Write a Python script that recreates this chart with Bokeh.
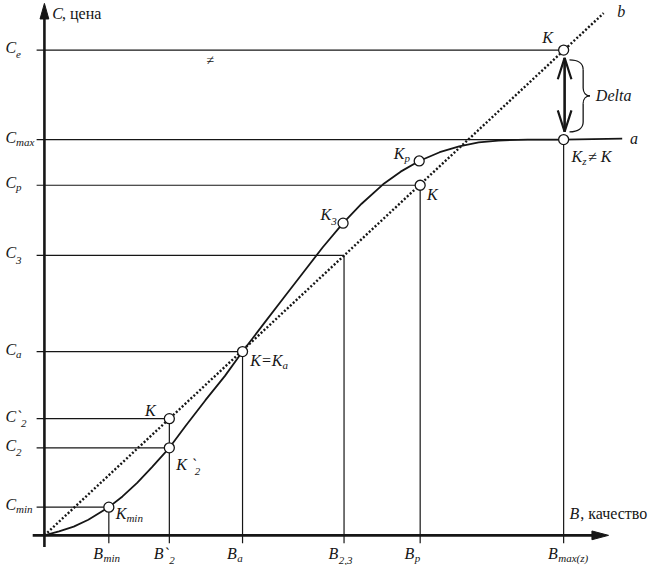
from bokeh.plotting import figure
from bokeh.models import Range1d, ColumnDataSource
from bokeh.core.properties import value
from bokeh.embed import file_html
from bokeh.resources import INLINE

# ---------------- data (diagram units) ----------------
# quality levels on the B axis
B_main = ["B", "B`", "B", "B", "B", "B"]
B_sub = ["min", "2", "a", "2,3", "p", "max(z)"]
B_vals = [66, 128, 203, 307, 385, 532]
B_top = [29, 120, 189, 288, 360, 407]          # height reached by each vertical guide

# price levels on the C axis
C_main = ["C", "C", "C", "C", "C", "C`", "C", "C"]
C_sub = ["e", "max", "p", "3", "a", "2", "2", "min"]
C_vals = [499, 407, 360, 288, 189, 120, 90, 29]
C_end = [532, 532, 385, 307, 203, 128, 128, 66]  # where each horizontal guide stops

# curve a (S-shaped price/quality curve)
curve_B = [0, 15, 30, 45, 66, 80, 95, 110, 128, 145, 165, 185, 203, 225, 245, 265,
           285, 306, 325, 347, 365, 384, 405, 425, 445, 465, 495, 532, 592]
curve_C = [0, 4, 9, 16, 29, 40, 54, 70, 90, 113, 139, 164, 189, 218, 244, 270,
           296, 321, 341, 361, 374, 385, 394, 400, 404, 406, 407, 407, 408]

# line b (proportional price)
line_B = [0, 573]
line_C = [0, 537]

# marked points
K_B = [66, 128, 128, 203, 306, 384, 385, 532, 532]
K_C = [29, 90, 120, 189, 321, 385, 360, 499, 407]
K_main = ["K", "K `", "K", "K=K", "K", "K", "K", "K", "K"]
K_sub = ["min", "2", "", "a", "3", "p", "", "", "z"]
K_extra = ["", "", "", "", "", "", "", "", "\u2260 K"]

# ---------------- styles ----------------
FONT = "Liberation Serif"
INK = "#161616"
MAIN = 16
SUB = 11
K_off = [(7, -6), (7, -16), (-25, 9), (8, -9), (-23, 10), (-26, 8), (7, -9), (-22, 14), (8, -17)]
K_subdx = [11, 19, 0, 33, 11, 11, 0, 0, 11]
K_extradx = [0, 0, 0, 0, 0, 0, 0, 0, 17]
C_subdx = {"C": 11, "C`": 16}
B_subdx = {"B": 10.5, "B`": 16}

p = figure(width=650, height=565, x_range=Range1d(-45, 621), y_range=Range1d(-31, 550),
           output_backend="svg", toolbar_location=None, x_axis_type=None, y_axis_type=None,
           min_border=0, background_fill_color="white", border_fill_color="white")
p.outline_line_color = None
p.grid.visible = False

T = dict(x=[], y=[], text=[], size=[], style=[])


def txt(x, y, s, size=MAIN, italic=True):
    # y is the visual centre; the text is anchored at its bottom edge
    T["x"].append(x)
    T["y"].append(y - 0.57 * size / 0.972)
    T["text"].append(s)
    T["size"].append("%dpx" % size)
    T["style"].append("italic" if italic else "normal")


# guide lines
n = len(C_vals)
p.segment(x0=[-8] * n, y0=C_vals, x1=C_end, y1=C_vals, line_color=INK, line_width=1.2)
m = len(B_vals)
p.segment(x0=B_vals, y0=[-8] * m, x1=B_vals, y1=B_top, line_color=INK, line_width=1.2)

# axes with arrow heads
y_tip = 547
x_tip = 578
p.line([0, 0], [-12, y_tip - 14], line_color=INK, line_width=2.6)
p.patch([-4.5, 0, 4.5], [y_tip - 16, y_tip, y_tip - 16], fill_color=INK, line_color=INK)
p.line([-12, x_tip - 14], [0, 0], line_color=INK, line_width=2.6)
p.patch([x_tip - 17, x_tip, x_tip - 17], [4.5, 0, -4.5], fill_color=INK, line_color=INK)

# curve a and line b
p.line(line_B, line_C, line_color=INK, line_width=2.4, line_dash="2 2")
p.line(curve_B, curve_C, line_color=INK, line_width=1.8)

# Delta double arrow between Ce and Cmax at Bmax
xd = B_vals[-1] + 1
top = C_vals[0] - 8
bot = C_vals[1] + 8
p.line([xd, xd], [top, bot], line_color=INK, line_width=2.6)
p.line([xd - 7, xd, xd + 7], [top - 22, top, top - 22], line_color=INK, line_width=2.2)
p.line([xd - 7, xd, xd + 7], [bot + 22, bot, bot + 22], line_color=INK, line_width=2.2)

# brace
xb = B_vals[-1] + 6
xm = xb + 14
xt = xb + 21
yt = C_vals[0] - 10
yb = C_vals[1] + 8
ym = (yt + yb) / 2
p.bezier(x0=[xb, xm, xt, xm], y0=[yt, ym + 8, ym, yb + 10],
         x1=[xm, xt, xm, xb], y1=[yt - 10, ym, ym - 8, yb],
         cx0=[xm - 5, xm, xm + 3, xm], cy0=[yt, ym + 3, ym, yb + 4],
         cx1=[xm, xm + 3, xm, xm - 5], cy1=[yt - 4, ym, ym - 3, yb],
         line_color=INK, line_width=1.3)
p.segment(x0=[xm, xm], y0=[yt - 10, ym - 8], x1=[xm, xm], y1=[ym + 8, yb + 10],
          line_color=INK, line_width=1.3)

# points
p.scatter(K_B, K_C, size=10, fill_color="white", line_color=INK, line_width=1.3)

# tick labels on C axis
for mn, sb, v in zip(C_main, C_sub, C_vals):
    txt(-40, v + 3, mn)
    txt(-40 + C_subdx[mn], v - 2, sb, SUB)

# tick labels on B axis
for mn, sb, v in zip(B_main, B_sub, B_vals):
    txt(v - 16, -18, mn)
    txt(v - 16 + B_subdx[mn], -23, sb, SUB)

# point labels
for bx, cy, mn, sb, ex, off, sdx, edx in zip(K_B, K_C, K_main, K_sub, K_extra, K_off, K_subdx, K_extradx):
    x0, y0 = bx + off[0], cy + off[1]
    txt(x0, y0, mn)
    if sb:
        txt(x0 + sdx, y0 - 5, sb, SUB)
    if ex:
        txt(x0 + edx, y0, ex)

# axis titles
txt(8, y_tip - 10, "C")
txt(18, y_tip - 10, ", цена", 16, italic=False)
txt(x_tip - 40, 23, "B")
txt(x_tip - 29, 23, ", качество", 16, italic=False)

# curve names and Delta
txt(curve_B[-1] + 8, curve_C[-1] + 1, "a")
txt(line_B[-1] + 14, line_C[-1] + 2, "b")
txt(B_vals[-1] + 33, (C_vals[0] + C_vals[1]) / 2, "Delta")
txt(166, C_vals[0] - 10, "\u2260", 14, italic=False)

src = ColumnDataSource(T)
p.text(x="x", y="y", text="text", source=src, text_font=value(FONT),
       text_font_size="size", text_font_style="style", text_align="left",
       text_baseline="bottom", text_color=INK)

open("out.html", "w").write(file_html(p, INLINE))
